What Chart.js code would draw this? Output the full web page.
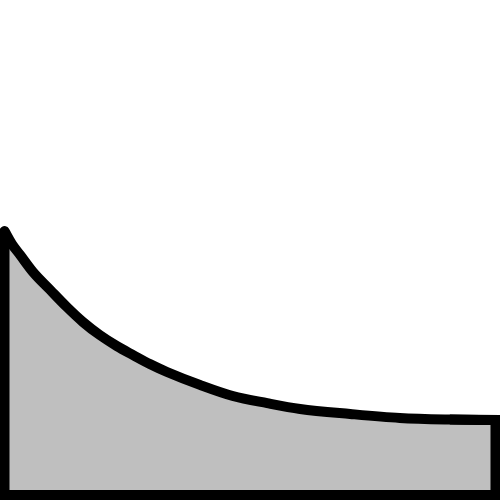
<!DOCTYPE html>
<html>
<head>
<meta charset="utf-8">
<script src="https://cdn.jsdelivr.net/npm/chart.js@4/dist/chart.umd.min.js"></script>
<style>
html,body{margin:0;padding:0;background:#ffffff;}
#wrap{width:500px;height:500px;}
</style>
</head>
<body>
<div id="wrap"><canvas id="c" width="500" height="500"></canvas></div>
<script>
// Curve (x in 0..100, y in arbitrary units)
const curveX = [0, 1.5, 3.2, 5.8, 9.3, 12.7, 16.0, 19.4, 22.9, 26.2, 29.6, 33.1, 39.8, 46.5, 53.5, 60.2, 70.4, 80.5, 90.7, 100];
const curveY = [100, 95.1, 90.9, 84.5, 77.7, 71.2, 65.5, 60.6, 56.4, 53.0, 49.6, 46.6, 41.7, 37.5, 34.8, 32.6, 30.7, 29.2, 28.6, 28.4];
const baseY = 0;

const curvePts = curveX.map((x, i) => ({x: x, y: curveY[i]}));
const n = curveX.length - 1;
// Frame: last curve segment, right edge down, bottom, left edge up
const framePts = [
  {x: curveX[n - 1], y: curveY[n - 1]},
  {x: curveX[n], y: curveY[n]},
  {x: curveX[n], y: baseY},
  {x: curveX[0], y: baseY},
  {x: curveX[0], y: curveY[0]}
];

new Chart(document.getElementById('c'), {
  type: 'scatter',
  data: {
    datasets: [{
      data: framePts,
      showLine: true,
      fill: false,
      borderColor: '#000000',
      borderWidth: 10,
      borderJoinStyle: 'miter',
      borderCapStyle: 'butt',
      tension: 0,
      pointRadius: 0,
      pointHoverRadius: 0,
      clip: false
    }, {
      data: curvePts,
      showLine: true,
      fill: 'origin',
      backgroundColor: 'rgb(191,191,191)',
      borderColor: '#000000',
      borderWidth: 10,
      borderJoinStyle: 'round',
      borderCapStyle: 'round',
      cubicInterpolationMode: 'monotone',
      pointRadius: 0,
      pointHoverRadius: 0,
      clip: false
    }]
  },
  options: {
    responsive: false,
    animation: false,
    layout: {padding: 0},
    plugins: {legend: {display: false}, tooltip: {enabled: false}},
    scales: {
      x: {type: 'linear', display: false, min: -0.917, max: 100.917},
      y: {type: 'linear', display: false, min: -1.894, max: 187.5}
    }
  }
});
</script>
</body>
</html>
